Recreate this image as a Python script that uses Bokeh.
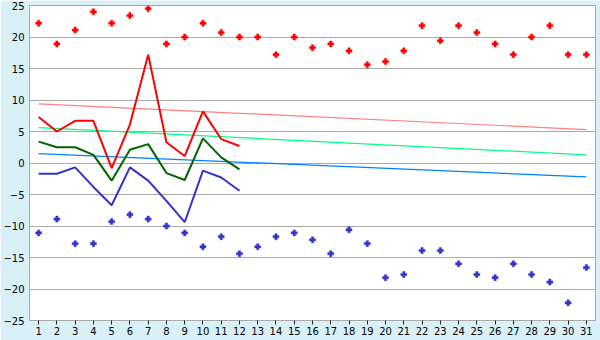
from bokeh.plotting import figure
from bokeh.models import FixedTicker
from bokeh.embed import file_html
from bokeh.resources import INLINE

days = list(range(1, 32))
rec_max = [22.2, 18.9, 21.1, 24.0, 22.2, 23.4, 24.5, 18.9, 20.0, 22.2,
           20.7, 20.0, 20.0, 17.2, 20.0, 18.3, 18.9, 17.8, 15.6, 16.1,
           17.8, 21.8, 19.4, 21.8, 20.7, 18.9, 17.2, 20.0, 21.8, 17.2, 17.2]
rec_min = [-11.1, -8.9, -12.8, -12.8, -9.3, -8.2, -8.9, -10.0, -11.1, -13.3,
           -11.7, -14.4, -13.3, -11.7, -11.1, -12.2, -14.4, -10.6, -12.8, -18.2,
           -17.7, -13.9, -13.9, -16.0, -17.7, -18.2, -16.0, -17.7, -18.9, -22.2, -16.6]
obs_days = list(range(1, 13))
t_max = [7.3, 5.0, 6.7, 6.7, -0.8, 6.1, 17.2, 3.3, 1.1, 8.2, 3.8, 2.7]
t_mean = [3.4, 2.5, 2.5, 1.3, -2.8, 2.1, 3.0, -1.6, -2.7, 3.9, 0.9, -1.0]
t_min = [-1.7, -1.7, -0.7, -3.8, -6.7, -0.7, -2.8, -6.0, -9.4, -1.2, -2.3, -4.4]
trend_x = [1, 31]
trend_max = [9.4, 5.3]
trend_mean = [5.6, 1.3]
trend_min = [1.5, -2.2]
y_ticks = [-25, -20, -15, -10, -5, 0, 5, 10, 15, 20, 25]

BG = "#d9f0f7"
GRID = "#aaaaaa"

p = figure(width=600, height=340, x_range=(0.5, 31.5), y_range=(-25, 25),
           output_backend="svg", toolbar_location=None,
           background_fill_color="white", border_fill_color=BG,
           min_border_left=27, min_border_right=5, min_border_top=5, min_border_bottom=20)

p.outline_line_color = GRID
p.xgrid.grid_line_color = None
p.ygrid.grid_line_color = GRID
p.ygrid.ticker = FixedTicker(ticks=y_ticks)

p.xaxis.ticker = FixedTicker(ticks=days)
p.yaxis.ticker = FixedTicker(ticks=y_ticks)
for ax in (p.xaxis, p.yaxis):
    ax.axis_line_color = GRID
    ax.major_tick_line_color = "#222222"
    ax.minor_tick_line_color = None
    ax.major_tick_in = 0
    ax.major_label_text_font = "DejaVu Sans"
    ax.major_label_text_font_size = "10px"
    ax.major_label_text_color = "#000000"
p.xaxis.major_tick_out = 4
p.xaxis.major_label_standoff = 2
p.yaxis.major_tick_out = 0
p.yaxis.major_label_standoff = 5

# trend lines
p.line(trend_x, trend_max, line_color="#ff8080", line_width=1.2)
p.line(trend_x, trend_mean, line_color="#00ff80", line_width=1.2)
p.line(trend_x, trend_min, line_color="#0080ff", line_width=1.2)

# observed lines
p.line(obs_days, t_max, line_color="#ff0000", line_width=2)
p.line(obs_days, t_mean, line_color="#006400", line_width=2)
p.line(obs_days, t_min, line_color="#3333cc", line_width=2)

# records
p.scatter(days, rec_max, marker="plus", size=6, fill_color="#ff0000", line_color="#ff0000", line_width=0.5)
p.scatter(days, rec_min, marker="plus", size=6, fill_color="#3333cc", line_color="#3333cc", line_width=0.5)

open("out.html", "w").write(file_html(p, INLINE))
